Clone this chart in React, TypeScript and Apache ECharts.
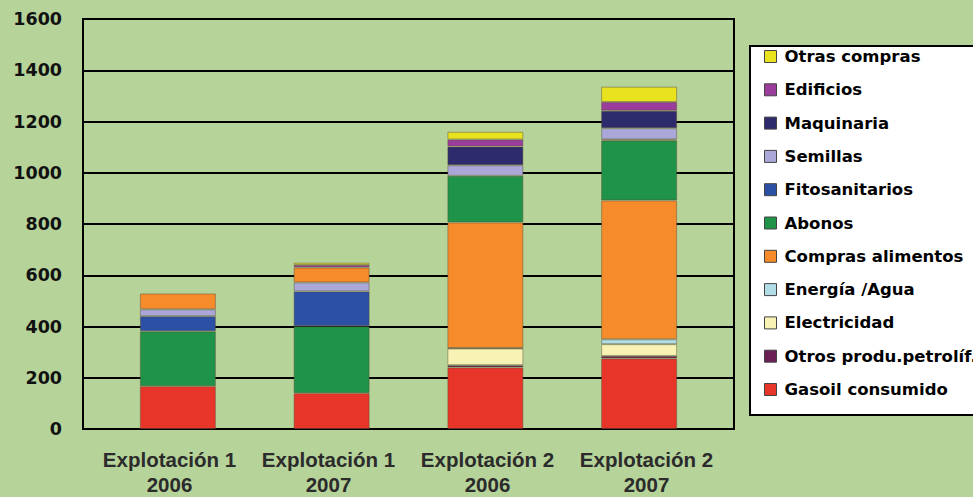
import React, { useEffect, useRef } from "react";
import * as echarts from "echarts";

const categories = [
  "Explotación 1\n2006",
  "Explotación 1\n2007",
  "Explotación 2\n2006",
  "Explotación 2\n2007",
];

const gasoil = [167, 140, 240, 275];
const otrosPetro = [0, 0, 9, 10];
const electricidad = [0, 0, 65, 46];
const energia = [0, 0, 2, 19];
const comprasAlimentos = [62, 58, 490, 542];
const comprasArriba = [true, true, false, false];
const abonos = [214, 261, 182, 234];
const fitosanitarios = [59, 136, 0, 4];
const semillas = [27, 35, 41, 44];
const maquinaria = [0, 0, 73, 68];
const edificios = [0, 10, 28, 34];
const otrasCompras = [0, 9, 30, 60];

const legendOrder = [
  "Otras compras",
  "Edificios",
  "Maquinaria",
  "Semillas",
  "Fitosanitarios",
  "Abonos",
  "Compras alimentos",
  "Energía /Agua",
  "Electricidad",
  "Otros produ.petrolíf.",
  "Gasoil consumido",
];

const yMin = 0;
const yMax = 1600;
const yStep = 200;

const colors: Record<string, string> = {
  "Otras compras": "#e9e21f",
  Edificios: "#9a3d9b",
  Maquinaria: "#2d2b6b",
  Semillas: "#aaa8d9",
  Fitosanitarios: "#2b50a5",
  Abonos: "#1f9448",
  "Compras alimentos": "#f68b2b",
  "Energía /Agua": "#b2dce6",
  Electricidad: "#f8f3b4",
  "Otros produ.petrolíf.": "#6b1f55",
  "Gasoil consumido": "#e8352a",
};

function bar(name: string, values: number[]) {
  return {
    type: "bar",
    name,
    stack: "total",
    xAxisIndex: 1,
    yAxisIndex: 1,
    barWidth: 76,
    data: values.map((v) => (v === 0 ? "-" : v)),
    itemStyle: {
      color: colors[name],
      borderColor: "rgba(90,70,50,0.45)",
      borderWidth: 1,
    },
  };
}

export default function App() {
  const ref = useRef<HTMLDivElement>(null);
  useEffect(() => {
    if (!ref.current) return;
    const chart = echarts.init(ref.current, undefined, { renderer: "svg" });
    const comprasBajo = comprasAlimentos.map((v, i) => (comprasArriba[i] ? 0 : v));
    const comprasAlto = comprasAlimentos.map((v, i) => (comprasArriba[i] ? v : 0));
    const option = {
      animation: false,
      backgroundColor: "#b6d39a",
      grid: [
        {
          left: 83,
          right: 239,
          top: 19,
          bottom: 68,
          show: true,
          borderColor: "#000",
          borderWidth: 2,
          backgroundColor: "transparent",
        },
        { left: 101, right: 257, top: 19, bottom: 68 },
        { left: 90, right: 247, top: 19, bottom: 68 },
      ],
      xAxis: [
        { type: "category", gridIndex: 0, data: categories, show: false },
        { type: "category", gridIndex: 1, data: categories, show: false },
        {
          type: "category",
          gridIndex: 2,
          data: categories,
          axisLine: { show: false },
          axisTick: { show: false },
          axisLabel: {
            interval: 0,
            margin: 21,
            fontFamily: "Liberation Sans",
            fontWeight: "bold",
            fontSize: 20.5,
            lineHeight: 25,
            color: "#2b2b2b",
          },
        },
      ],
      yAxis: [
        {
          type: "value",
          gridIndex: 0,
          min: yMin,
          max: yMax,
          interval: yStep,
          axisLine: { show: true, lineStyle: { color: "#000", width: 2 } },
          axisTick: { show: false },
          splitLine: { show: true, lineStyle: { color: "#000", width: 2 } },
          axisLabel: {
            margin: 21,
            formatter: (v: number) => String(v),
            fontFamily: "DejaVu Sans",
            fontWeight: "bold",
            fontSize: 17.5,
            color: "#111",
          },
        },
        { type: "value", gridIndex: 1, min: yMin, max: yMax, interval: yStep, show: false },
        { type: "value", gridIndex: 2, min: yMin, max: yMax, interval: yStep, show: false },
      ],
      graphic: [
        {
          type: "rect",
          z: 0,
          shape: { x: 750, y: 46, width: 240, height: 369 },
          style: { fill: "#fff", stroke: "#000", lineWidth: 2 },
        },
      ],
      legend: {
        orient: "vertical",
        left: 759,
        top: 43,
        z: 5,
        data: legendOrder,
        itemWidth: 12,
        itemHeight: 12,
        itemGap: 16.3,
        icon: "rect",
        itemStyle: { borderColor: "#444", borderWidth: 1 },
        textStyle: {
          fontFamily: "DejaVu Sans",
          fontWeight: "bold",
          fontSize: 16.5,
          lineHeight: 17,
          color: "#000",
          padding: [0, 0, 0, 3],
        },
      },
      series: [
        bar("Gasoil consumido", gasoil),
        bar("Otros produ.petrolíf.", otrosPetro),
        bar("Electricidad", electricidad),
        bar("Energía /Agua", energia),
        bar("Compras alimentos", comprasBajo),
        bar("Abonos", abonos),
        bar("Fitosanitarios", fitosanitarios),
        bar("Semillas", semillas),
        bar("Compras alimentos", comprasAlto),
        bar("Maquinaria", maquinaria),
        bar("Edificios", edificios),
        bar("Otras compras", otrasCompras),
      ],
    };
    chart.setOption(option as any);
    return () => chart.dispose();
  }, []);
  return (
    <div
      ref={ref}
      style={{ position: "fixed", left: 0, top: 0, width: 973, height: 497 }}
    />
  );
}
